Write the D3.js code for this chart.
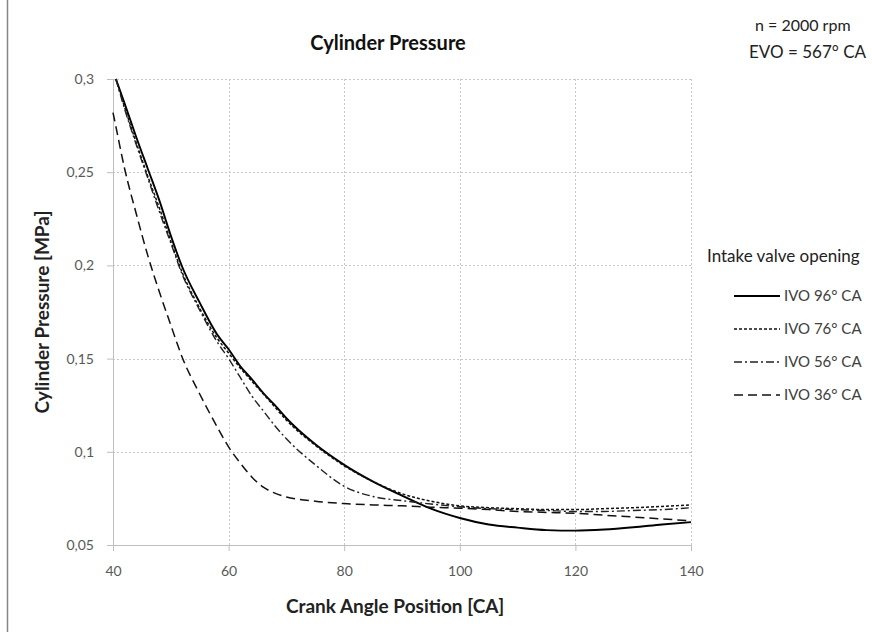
<!DOCTYPE html>
<html>
<head>
<meta charset="utf-8">
<script src="https://cdn.jsdelivr.net/npm/d3@7"></script>
<style>
  body { margin: 0; background: #fff; }
  text { font-family: Lato, "Open Sans", sans-serif; }
</style>
</head>
<body>
<div id="chart"></div>
<script>
// crank angle positions [CA]
const angles = [40, 40.5, 42, 44, 46, 48, 50, 52, 55, 58, 60, 62, 64, 66, 68, 70, 75, 80, 85, 90, 95, 100, 105, 110, 115, 120, 125, 130, 135, 140];

// cylinder pressure [MPa] per intake valve opening
const ivo96 = [null, 0.300, 0.287, 0.269, 0.252, 0.235, 0.216, 0.199, 0.180, 0.163, 0.155, 0.146, 0.139, 0.1315, 0.125, 0.118, 0.104, 0.093, 0.084, 0.0765, 0.0695, 0.0645, 0.061, 0.0593, 0.058, 0.0577, 0.0583, 0.0595, 0.061, 0.0623];
const ivo76 = [null, 0.300, 0.285, 0.266, 0.248, 0.231, 0.213, 0.196, 0.177, 0.161, 0.153, 0.145, 0.138, 0.131, 0.124, 0.117, 0.1035, 0.0925, 0.084, 0.0775, 0.0735, 0.071, 0.070, 0.0695, 0.069, 0.069, 0.0695, 0.070, 0.0707, 0.0715];
const ivo56 = [null, 0.300, 0.284, 0.265, 0.247, 0.229, 0.212, 0.195, 0.176, 0.159, 0.150, 0.140, 0.130, 0.122, 0.114, 0.107, 0.093, 0.0815, 0.076, 0.0738, 0.072, 0.0705, 0.0695, 0.069, 0.0685, 0.068, 0.068, 0.0685, 0.069, 0.070];
const ivo36 = [0.282, 0.2745, 0.252, 0.228, 0.2055, 0.186, 0.168, 0.1505, 0.131, 0.1135, 0.1026, 0.094, 0.0865, 0.081, 0.0778, 0.0758, 0.0735, 0.0722, 0.0715, 0.071, 0.0703, 0.0697, 0.069, 0.068, 0.0675, 0.067, 0.066, 0.065, 0.064, 0.063];

const seriesNames = ["IVO 96° CA", "IVO 76° CA", "IVO 56° CA", "IVO 36° CA"];
const xTicks = [40, 60, 80, 100, 120, 140];
const yTicks = [0.05, 0.1, 0.15, 0.2, 0.25, 0.3];

const series = [
  {name: seriesNames[0], values: ivo96, dash: null, width: 1.9, color: "#000"},
  {name: seriesNames[1], values: ivo76, dash: "3,2", width: 1.5, color: "#111"},
  {name: seriesNames[2], values: ivo56, dash: "8,3,2,3", width: 1.4, color: "#222"},
  {name: seriesNames[3], values: ivo36, dash: "9,5", width: 1.5, color: "#111"}
];

const W = 872, H = 632;
const plot = {left: 113, right: 691, top: 79, bottom: 545};

const svg = d3.select("#chart").append("svg")
    .attr("width", W)
    .attr("height", H);

// chart frame
svg.append("rect")
    .attr("x", 7.5).attr("y", -5)
    .attr("width", 900).attr("height", 650)
    .attr("fill", "none")
    .attr("stroke", "#868686")
    .attr("stroke-width", 1.5);

const x = d3.scaleLinear().domain([40, 140]).range([plot.left, plot.right]);
const y = d3.scaleLinear().domain([0.05, 0.3]).range([plot.bottom, plot.top]);

const fmt = d => String(d).replace(".", ",");

// gridlines
svg.append("g")
    .selectAll("line")
    .data(yTicks.slice(1))
    .join("line")
    .attr("x1", plot.left).attr("x2", plot.right)
    .attr("y1", d => Math.round(y(d)) + 0.5).attr("y2", d => Math.round(y(d)) + 0.5)
    .attr("stroke", "#c8c8c8")
    .attr("stroke-dasharray", "2,2");

svg.append("g")
    .selectAll("line")
    .data(xTicks.slice(1))
    .join("line")
    .attr("x1", d => Math.round(x(d)) + 0.5).attr("x2", d => Math.round(x(d)) + 0.5)
    .attr("y1", plot.top).attr("y2", plot.bottom)
    .attr("stroke", "#c8c8c8")
    .attr("stroke-dasharray", "2,2");

// axes
const xAxis = d3.axisBottom(x).tickValues(xTicks).tickSize(6).tickPadding(15).tickFormat(d => d);
const yAxis = d3.axisLeft(y).tickValues(yTicks).tickSize(6).tickPadding(13).tickFormat(fmt);

const gx = svg.append("g")
    .attr("transform", "translate(0," + plot.bottom + ")")
    .call(xAxis);
const gy = svg.append("g")
    .attr("transform", "translate(" + plot.left + ",0)")
    .call(yAxis);

[gx, gy].forEach(g => {
  g.select(".domain").attr("stroke", "#bfbfbf");
  g.selectAll(".tick line").attr("stroke", "#bfbfbf");
  g.selectAll(".tick text")
      .attr("fill", "#595959")
      .style("font-size", "14px")
      .style("font-family", "Lato, sans-serif");
});

// curves
const line = d3.line()
    .defined(d => d[1] != null)
    .x(d => x(d[0]))
    .y(d => y(d[1]))
    .curve(d3.curveMonotoneX);

series.forEach(s => {
  svg.append("path")
      .datum(angles.map((a, i) => [a, s.values[i]]))
      .attr("fill", "none")
      .attr("stroke", s.color)
      .attr("stroke-width", s.width)
      .attr("stroke-dasharray", s.dash)
      .attr("d", line);
});

// titles
svg.append("text")
    .attr("x", 388).attr("y", 50)
    .attr("text-anchor", "middle")
    .style("font-size", "20px")
    .style("font-weight", "bold")
    .attr("fill", "#111")
    .text("Cylinder Pressure");

svg.append("text")
    .attr("x", 395).attr("y", 613)
    .attr("text-anchor", "middle")
    .style("font-size", "19px")
    .style("font-weight", "bold")
    .attr("fill", "#222")
    .text("Crank Angle Position [CA]");

svg.append("text")
    .attr("transform", "translate(49," + (plot.top + plot.bottom) / 2 + ") rotate(-90)")
    .attr("text-anchor", "middle")
    .style("font-size", "19px")
    .style("font-weight", "bold")
    .attr("fill", "#222")
    .text("Cylinder Pressure [MPa]");

// operating point note
svg.append("text")
    .attr("x", 755).attr("y", 31)
    .style("font-size", "16px")
    .attr("fill", "#222")
    .text("n = 2000 rpm");
svg.append("text")
    .attr("x", 749).attr("y", 58)
    .style("font-size", "17px")
    .attr("fill", "#222")
    .text("EVO = 567° CA");

// legend
svg.append("text")
    .attr("x", 707).attr("y", 262)
    .style("font-size", "17px")
    .attr("fill", "#222")
    .text("Intake valve opening");

const legend = svg.append("g")
    .selectAll("g")
    .data(series)
    .join("g")
    .attr("transform", (d, i) => "translate(734," + (296 + i * 33) + ")");

legend.append("line")
    .attr("x1", 0).attr("x2", 46)
    .attr("stroke", d => d.color)
    .attr("stroke-width", d => d.width)
    .attr("stroke-dasharray", d => d.dash);

legend.append("text")
    .attr("x", 50).attr("y", 5)
    .style("font-size", "15px")
    .attr("fill", "#404040")
    .text(d => d.name);
</script>
</body>
</html>
